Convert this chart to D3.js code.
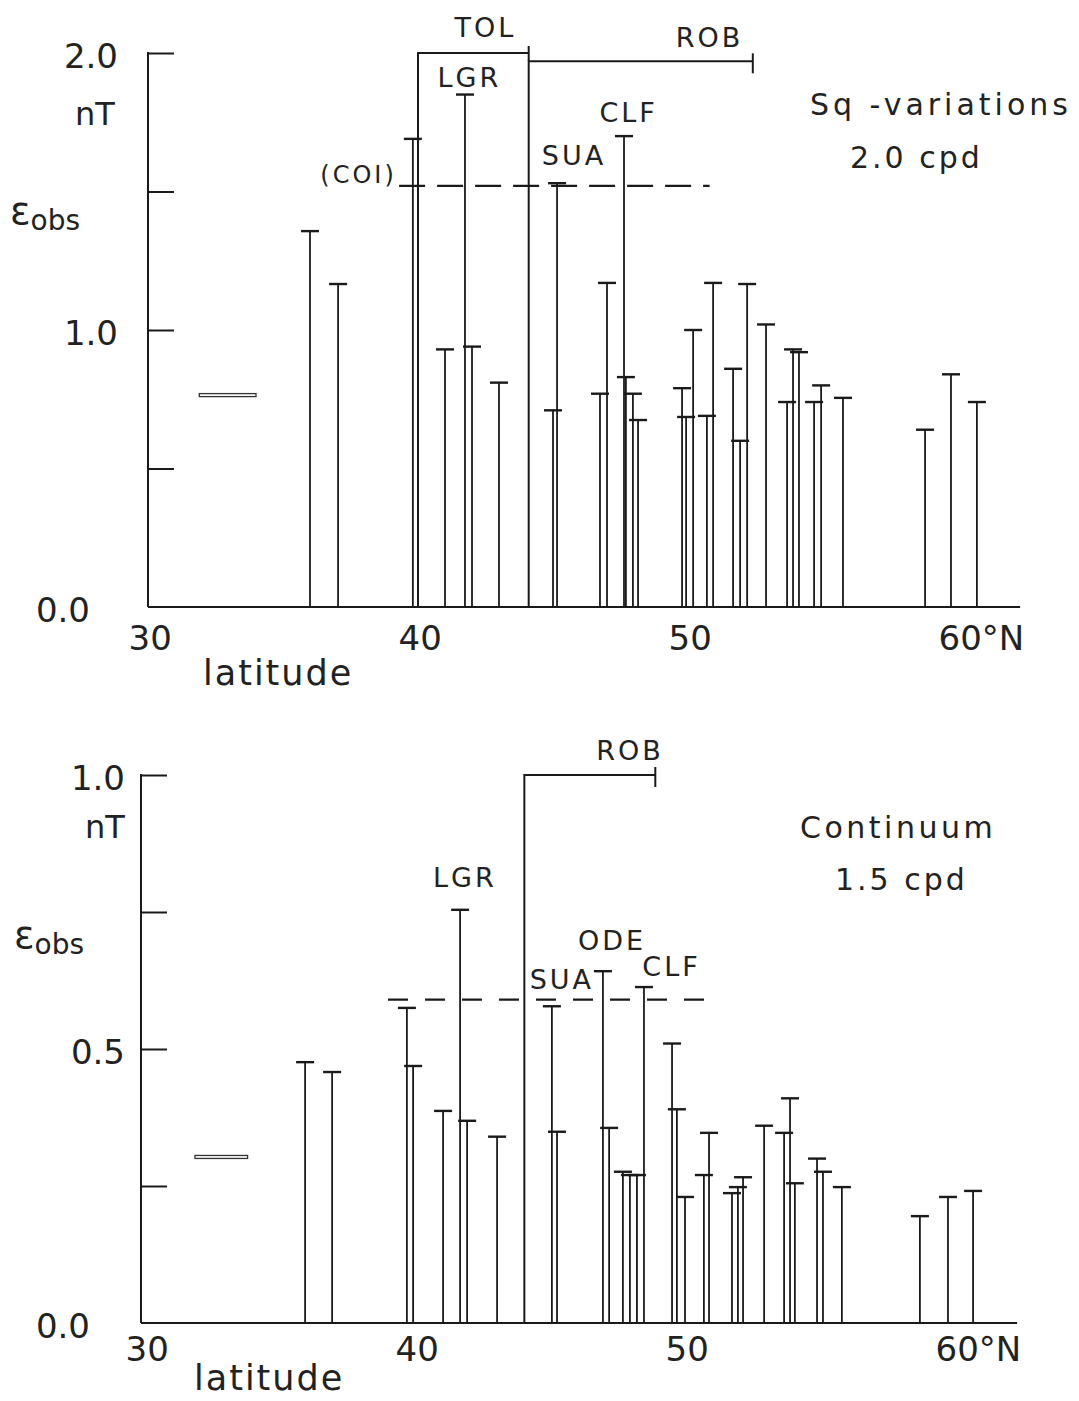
<!DOCTYPE html>
<html>
<head>
<meta charset="utf-8">
<script src="https://cdn.jsdelivr.net/npm/d3@7"></script>
<style>
  body { margin: 0; background: #fff; }
  svg { display: block; }
  text { font-family: "DejaVu Sans", sans-serif; fill: #222; }
</style>
</head>
<body>
<div id="chart"></div>
<script>
// top panel: Sq-variations, 2.0 cpd
const sqLat = [36.0, 37.04, 39.81, 41.0, 41.74, 42.0, 43.0, 45.0, 45.15, 46.74, 47.0, 47.63, 47.7, 47.96, 48.15,
  49.78, 49.93, 50.19, 50.7, 50.93, 51.67, 51.93, 52.19, 52.89, 53.67, 53.89, 54.11, 54.67, 54.93, 55.74,
  58.78, 59.74, 60.7];
const sqVal = [1.357, 1.166, 1.69, 0.93, 1.85, 0.94, 0.81, 0.71, 1.53, 0.77, 1.17, 1.70, 0.83, 0.77, 0.675,
  0.79, 0.686, 1.0, 0.69, 1.17, 0.86, 0.60, 1.166, 1.02, 0.74, 0.93, 0.92, 0.74, 0.80, 0.755,
  0.64, 0.84, 0.74];
const sqLabels = ["TOL", "LGR", "ROB", "SUA", "CLF", "(COI)"];
const sqLabelLat = [42.5, 41.9, 50.8, 45.78, 47.8, 37.8];
const sqLabelVal = [2.058, 1.877, 2.02, 1.596, 1.75, 1.53];
const sqTol = [40.0, 44.1, 2.0];      // from, to, level
const sqRob = [44.1, 52.4, 1.97];
const sqCoi = [39.3, 50.8, 1.52];     // dashed reference line
const sqMean = [31.9, 34.0, 0.765];   // mean bar at left
const sqTicks = [0.5, 1.0, 1.5, 2.0];
const sqTickLabels = [0.0, 1.0, 2.0];

// bottom panel: Continuum, 1.5 cpd
const coLat = [35.93, 36.93, 39.7, 39.93, 41.04, 41.67, 41.93, 43.04, 45.07, 45.26, 46.96, 47.19, 47.7, 47.96, 48.22,
  48.48, 49.52, 49.7, 50.0, 50.7, 50.89, 51.74, 51.96, 52.15, 52.93, 53.67, 53.89, 54.07, 54.89, 55.11, 55.81,
  58.7, 59.74, 60.67];
const coVal = [0.476, 0.458, 0.575, 0.469, 0.387, 0.754, 0.369, 0.34, 0.578, 0.349, 0.642, 0.356, 0.276, 0.27, 0.27,
  0.613, 0.51, 0.39, 0.23, 0.27, 0.347, 0.237, 0.248, 0.266, 0.36, 0.347, 0.41, 0.255, 0.30, 0.276, 0.248,
  0.195, 0.23, 0.241];
const coLabels = ["ROB", "LGR", "ODE", "SUA", "CLF"];
const coLabelLat = [47.96, 41.85, 47.3, 45.44, 49.5];
const coLabelVal = [1.027, 0.795, 0.681, 0.61, 0.633];
const coRob = [44.05, 48.9, 1.0];
const coDash = [39.0, 51.2, 0.59];
const coMean = [31.85, 33.8, 0.303];
const coTicks = [0.25, 0.5, 0.75, 1.0];
const coTickLabels = [0.0, 0.5, 1.0];

const xTicks = [30, 40, 50, 60];

const width = 1079, height = 1401;
const svg = d3.select("#chart").append("svg").attr("width", width).attr("height", height);
svg.append("rect").attr("width", width).attr("height", height).attr("fill", "#fff");

function drawPanel(p) {
  const x = d3.scaleLinear().domain([30, 60]).range(p.xRange);
  const y = d3.scaleLinear().domain([0, p.yMax]).range(p.yRange);
  const g = svg.append("g");
  const ink = "#1a1a1a";

  // y axis line + inward ticks
  g.append("line").attr("x1", p.axisX).attr("x2", p.axisX)
    .attr("y1", y(0)).attr("y2", y(p.yMax) - 1).attr("stroke", ink).attr("stroke-width", 2);
  const yAxis = g.append("g").attr("transform", `translate(${p.axisX},0)`)
    .call(d3.axisRight(y).tickValues(p.ticks).tickSize(26).tickFormat(""));
  yAxis.select(".domain").remove();
  yAxis.selectAll("line").attr("stroke", ink).attr("stroke-width", 2);

  // baseline
  g.append("line").attr("x1", p.axisX).attr("x2", x(62.3))
    .attr("y1", y(0)).attr("y2", y(0)).attr("stroke", ink).attr("stroke-width", 2.2);

  // x tick labels
  const xAxis = g.append("g").attr("transform", `translate(0,${y(0)})`)
    .call(d3.axisBottom(x).tickValues(xTicks).tickSize(0)
      .tickFormat(d => d === 60 ? "60°N" : d));
  xAxis.select(".domain").remove();
  xAxis.selectAll("text")
    .attr("text-anchor", "start").attr("dx", -20).attr("dy", 0).attr("y", p.xLabelDy)
    .attr("font-size", 34).attr("fill", "#222")
    .style("font-family", "DejaVu Sans, sans-serif");

  g.append("text").attr("x", p.latX).attr("y", p.latY)
    .attr("font-size", 35).attr("letter-spacing", 2).text("latitude");

  // y tick labels
  g.selectAll(".ylab").data(p.tickLabels).enter().append("text")
    .attr("text-anchor", "end")
    .attr("x", d => d === 0 ? p.axisX - p.zeroOff : p.axisX - p.labOff)
    .attr("y", d => y(d) + 15)
    .attr("font-size", 34)
    .text(d => d.toFixed(1));

  g.append("text").attr("x", p.nTx).attr("y", p.nTy).attr("font-size", 32).text("nT");
  const eps = g.append("text").attr("x", p.epsX).attr("y", p.epsY);
  eps.append("tspan").attr("font-size", 38).text("ε");
  eps.append("tspan").attr("font-size", 28).attr("dy", 6).text("obs");

  // mean marker (double line)
  g.append("rect").attr("x", x(p.mean[0])).attr("width", x(p.mean[1]) - x(p.mean[0]))
    .attr("y", y(p.mean[2]) - 1.5).attr("height", 3)
    .attr("fill", "none").attr("stroke", "#333").attr("stroke-width", 1.3);

  // dashed reference level
  g.append("line").attr("x1", x(p.dash[0])).attr("x2", x(p.dash[1]))
    .attr("y1", y(p.dash[2])).attr("y2", y(p.dash[2]))
    .attr("stroke", ink).attr("stroke-width", 2.2).attr("stroke-dasharray", p.dashPattern);

  // station bars
  const data = d3.zip(p.lat, p.val);
  g.selectAll(".bar").data(data).enter().append("line")
    .attr("x1", d => x(d[0])).attr("x2", d => x(d[0]))
    .attr("y1", y(0)).attr("y2", d => y(d[1]))
    .attr("stroke", ink).attr("stroke-width", 1.8);
  g.selectAll(".cap").data(data).enter().append("line")
    .attr("x1", d => x(d[0]) - 9).attr("x2", d => x(d[0]) + 9)
    .attr("y1", d => y(d[1])).attr("y2", d => y(d[1]))
    .attr("stroke", ink).attr("stroke-width", 2.4);

  // off-scale brackets
  p.brackets.forEach((b, i) => {
    const path = d3.path();
    path.moveTo(x(b[0]), y(0));
    path.lineTo(x(b[0]), y(b[2]));
    path.lineTo(x(b[1]), y(b[2]));
    g.append("path").attr("d", path.toString()).attr("fill", "none")
      .attr("stroke", ink).attr("stroke-width", 2);
    const last = i === p.brackets.length - 1;
    g.append("line").attr("x1", x(b[1])).attr("x2", x(b[1]))
      .attr("y1", y(b[2]) - (last ? 8 : 7)).attr("y2", y(b[2]) + (last ? 12 : 8))
      .attr("stroke", ink).attr("stroke-width", 2);
  });

  // station labels
  g.selectAll(".st").data(d3.zip(p.labels, p.labelLat, p.labelVal)).enter().append("text")
    .attr("text-anchor", "middle")
    .attr("x", d => x(d[1])).attr("y", d => y(d[2]))
    .attr("font-size", d => d[0] === "(COI)" ? 24 : 27)
    .attr("letter-spacing", 3)
    .text(d => d[0]);

  g.append("text").attr("x", p.titleX).attr("y", p.titleY)
    .attr("font-size", 30).attr("letter-spacing", p.titleSpacing).text(p.title);
  g.append("text").attr("x", p.subX).attr("y", p.subY)
    .attr("font-size", 30).attr("letter-spacing", 3).text(p.sub);
}

drawPanel({
  lat: sqLat, val: sqVal, yMax: 2.0, ticks: sqTicks, tickLabels: sqTickLabels,
  xRange: [148, 958], yRange: [607, 53], axisX: 148,
  labOff: 30, zeroOff: 58, xLabelDy: 43,
  latX: 203, latY: 685, nTx: 75, nTy: 125, epsX: 10, epsY: 224,
  mean: sqMean, dash: sqCoi, dashPattern: "26,12",
  brackets: [sqTol, sqRob],
  labels: sqLabels, labelLat: sqLabelLat, labelVal: sqLabelVal,
  title: "Sq -variations", titleX: 810, titleY: 115, titleSpacing: 4,
  sub: "2.0 cpd", subX: 850, subY: 168
});

drawPanel({
  lat: coLat, val: coVal, yMax: 1.0, ticks: coTicks, tickLabels: coTickLabels,
  xRange: [145, 955], yRange: [1323, 775], axisX: 141,
  labOff: 16, zeroOff: 51, xLabelDy: 38,
  latX: 194, latY: 1390, nTx: 85, nTy: 838, epsX: 14, epsY: 948,
  mean: coMean, dash: coDash, dashPattern: "20,17",
  brackets: [coRob],
  labels: coLabels, labelLat: coLabelLat, labelVal: coLabelVal,
  title: "Continuum", titleX: 800, titleY: 838, titleSpacing: 3.5,
  sub: "1.5 cpd", subX: 835, subY: 890
});
</script>
</body>
</html>
